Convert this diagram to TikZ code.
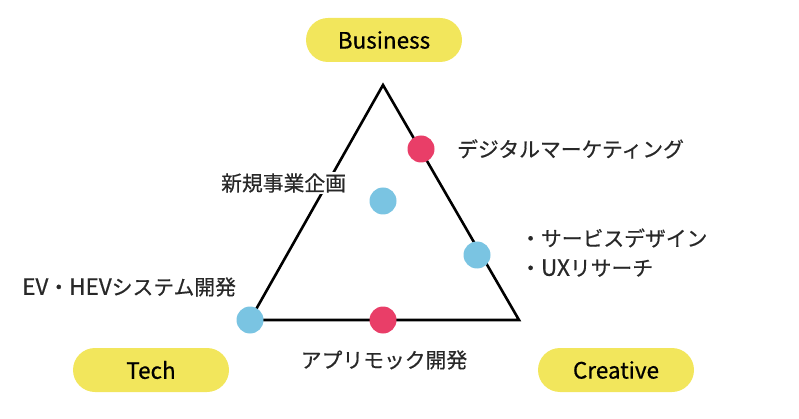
\documentclass[tikz,border=0pt]{standalone}
\usepackage{fontspec}
\setmainfont{Noto Sans CJK JP}[FakeBold=0.6]
\newcommand{\latinpart}[1]{{\fontsize{22.5}{28}\selectfont #1}}
\begin{document}
\begin{tikzpicture}[x=1pt,y=-1pt,
  pill/.style={fill=pillyellow,rounded corners=22pt,minimum width=156pt,minimum height=44pt,inner sep=0pt,font=\fontsize{22.5}{26}\selectfont,text=black},
  lbl/.style={font=\fontsize{20.8}{28}\selectfont,text=txtgray,inner sep=1pt},
  dot/.style={circle,minimum size=27pt,inner sep=0pt},
  edge/.style={line width=2.6pt,line join=miter}]
\definecolor{pillyellow}{RGB}{242,230,92}
\definecolor{dotred}{RGB}{233,62,104}
\definecolor{dotblue}{RGB}{122,196,226}
\definecolor{txtgray}{RGB}{40,40,40}
\useasboundingbox (0,0) rectangle (799,419);

% corners of the triangle
\coordinate (top) at (383,85);
\coordinate (bl) at (250,320);
\coordinate (br) at (519,320);
\draw[edge] (top) -- (br) -- (bl) -- cycle;

% axis labels
\node[pill] (business) at (384,40) {Business};
\node[pill] (tech) at (151,370) {Tech};
\node[pill] (creative) at (616,370) {Creative};

% items placed on the triangle
\node[lbl,fill=white,anchor=west] (shinki) at (220,183) {新規事業企画};
\node[dot,fill=dotred] (dm) at (421,149) {};
\node[dot,fill=dotblue] (sk) at (383,201) {};
\node[dot,fill=dotblue] (sd) at (477,255) {};
\node[dot,fill=dotblue] (ev) at (250,320) {};
\node[dot,fill=dotred] (app) at (383,320) {};

\node[lbl,anchor=west] (dmt) at (456,149) {デジタルマーケティング};
\node[lbl,anchor=west] (sdt1) at (519,238) {・サービスデザイン};
\node[lbl,anchor=west] (sdt2) at (519,268) {・\latinpart{UX}リサーチ};
\node[lbl,anchor=west] (evt) at (21,287) {\latinpart{EV}・\latinpart{HEV}システム開発};
\node[lbl] (appt) at (384,360) {アプリモック開発};
\end{tikzpicture}
\end{document}
